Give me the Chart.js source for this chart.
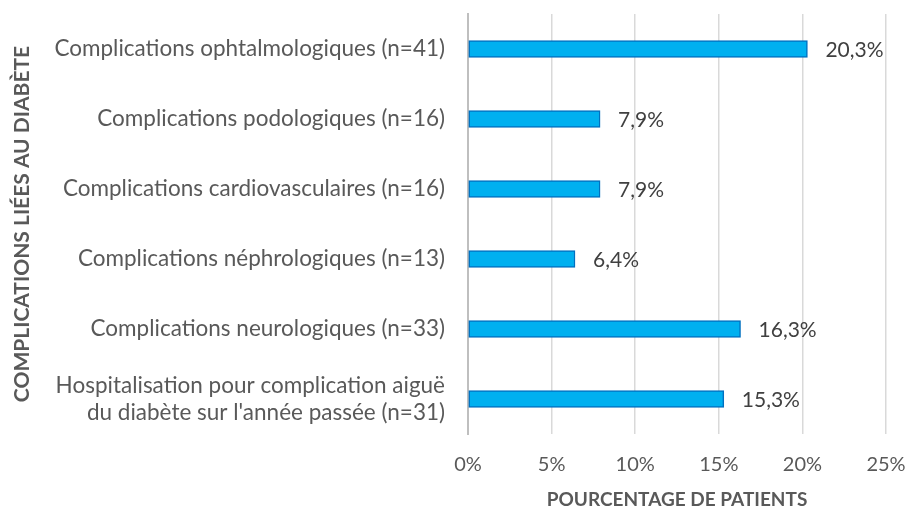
<!DOCTYPE html>
<html>
<head>
<meta charset="utf-8">
<style>
  html, body { margin: 0; padding: 0; background: #fff; }
  #wrap { width: 907px; height: 511px; }
</style>
<script src="https://cdn.jsdelivr.net/npm/chart.js"></script>
</head>
<body>
<div id="wrap"><canvas id="chart" width="907" height="511"></canvas></div>
<script>
const categories = [
  "Complications ophtalmologiques (n=41)",
  "Complications podologiques (n=16)",
  "Complications cardiovasculaires (n=16)",
  "Complications néphrologiques (n=13)",
  "Complications neurologiques (n=33)",
  ["Hospitalisation pour complication aiguë", "du diabète sur l'année passée (n=31)"]
];
const percentages = [20.3, 7.9, 7.9, 6.4, 16.3, 15.3];
const xTicks = [0, 5, 10, 15, 20, 25];

const FONT = "Lato, 'Open Sans', sans-serif";
const GREY = "#595959";

// draws "20,3%" just after each bar
const valueLabels = {
  id: "valueLabels",
  afterDatasetsDraw(chart) {
    const ctx = chart.ctx;
    const meta = chart.getDatasetMeta(0);
    ctx.save();
    ctx.font = "21px " + FONT;
    ctx.fillStyle = "#404040";
    ctx.textAlign = "left";
    ctx.textBaseline = "middle";
    meta.data.forEach(function (bar, i) {
      const txt = percentages[i].toFixed(1).replace(".", ",") + "%";
      ctx.fillText(txt, bar.x + 18, bar.y + 1);
    });
    ctx.restore();
  }
};

new Chart(document.getElementById("chart"), {
  type: "bar",
  data: {
    labels: categories,
    datasets: [{
      data: percentages,
      backgroundColor: "#00B0F0",
      borderColor: "#0070C0",
      borderWidth: 1.5,
      borderSkipped: false,
      barThickness: 17
    }]
  },
  options: {
    indexAxis: "y",
    responsive: false,
    animation: false,
    layout: { padding: { top: 14, right: 21, left: 0, bottom: 0 } },
    plugins: {
      legend: { display: false },
      tooltip: { enabled: false }
    },
    scales: {
      x: {
        min: 0,
        max: 25,
        afterBuildTicks: function (scale) {
          scale.ticks = xTicks.map(v => ({ value: v }));
        },
        afterFit: function (scale) {
          scale.height = 77;
          scale.paddingLeft = 0;
          scale.paddingRight = 0;
        },
        ticks: {
          color: GREY,
          font: { family: FONT, size: 20 },
          padding: 19,
          callback: v => v + "%"
        },
        grid: { color: "#D9D9D9", lineWidth: 1.5, drawTicks: false },
        border: { display: false },
        title: {
          display: true,
          text: "POURCENTAGE DE PATIENTS",
          color: GREY,
          font: { family: FONT, size: 19, weight: "bold" },
          padding: { top: 4, bottom: 0 }
        }
      },
      y: {
        afterFit: function (scale) {
          scale.width = 468;
          scale.paddingTop = 0;
          scale.paddingBottom = 0;
        },
        ticks: {
          color: GREY,
          font: { family: FONT, size: 22.5 },
          padding: 15,
          crossAlign: "near"
        },
        grid: { display: false },
        border: { display: true, color: "#BFBFBF", width: 2 },
        title: {
          display: true,
          text: "COMPLICATIONS LIÉES AU DIABÈTE",
          color: GREY,
          font: { family: FONT, size: 21, weight: "bold" },
          padding: { top: 10 }
        }
      }
    }
  },
  plugins: [valueLabels]
});
</script>
</body>
</html>
